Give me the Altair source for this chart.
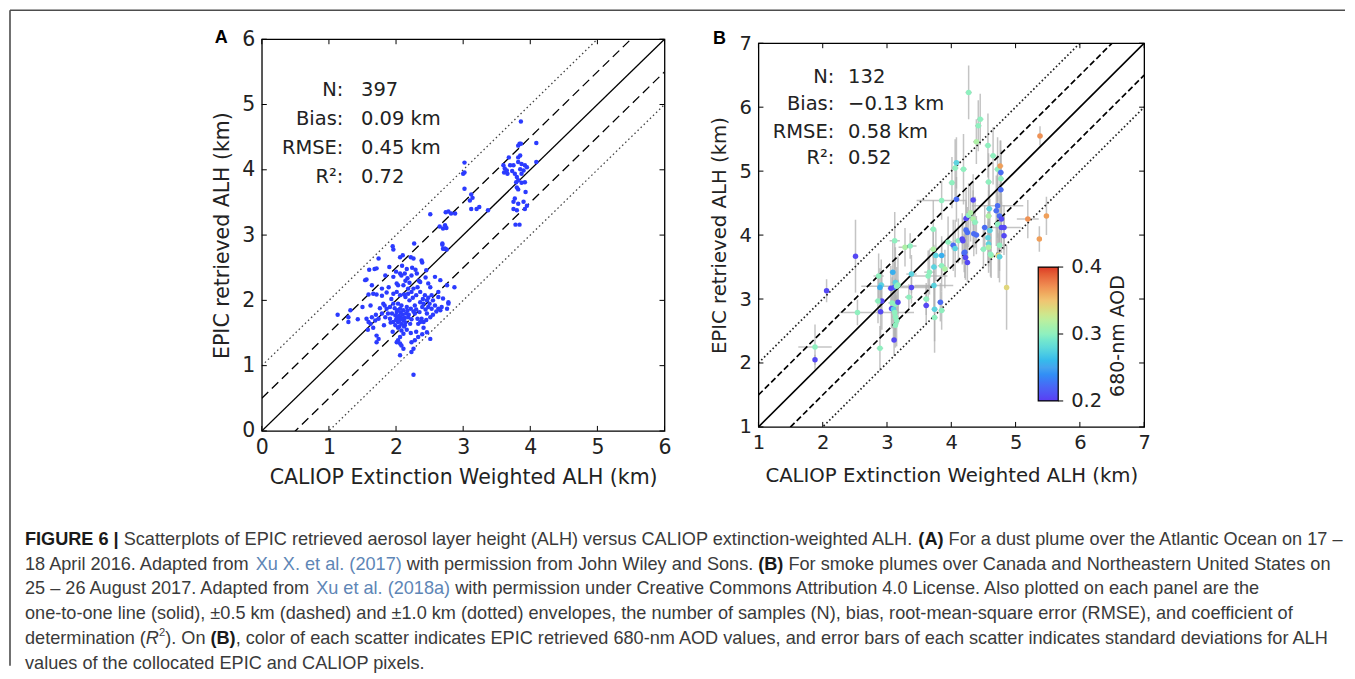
import altair as alt
import pandas as pd

# ---------------- data ----------------
# Panel A: (CALIOP ALH, EPIC ALH) in km
A_POINTS = [
    (1.95, 2.83), (1.96, 2.78), (2.27, 2.87), (2.10, 2.69), (2.06, 2.66), (2.22, 2.66), (2.26, 2.64),
    (2.38, 2.61), (2.39, 2.58), (2.69, 2.85), (2.73, 2.79), (2.755, 2.78), (1.74, 2.64), (1.68, 2.48),
    (1.71, 2.49), (1.60, 2.47), (1.54, 2.31), (1.56, 2.32), (1.84, 2.38), (1.96, 2.36), (2.06, 2.41),
    (2.08, 2.38), (2.13, 2.41), (2.17, 2.34), (2.23, 2.38), (2.31, 2.41), (2.36, 2.28), (2.48, 2.26),
    (2.51, 2.20), (2.58, 2.36), (2.66, 2.31), (2.76, 2.23), (2.87, 2.20), (1.64, 2.23), (1.79, 2.18),
    (1.89, 2.20), (2.01, 2.26), (2.03, 2.23), (2.11, 2.23), (2.18, 2.18), (2.26, 2.18), (2.32, 2.20),
    (1.96, 2.10), (2.01, 2.13), (2.06, 2.08), (2.12, 2.09), (2.18, 2.10), (2.23, 2.13), (1.59, 2.09),
    (1.66, 2.10), (1.71, 2.09), (1.79, 2.07), (2.36, 2.13), (2.43, 2.08), (2.48, 2.04), (2.53, 2.08),
    (2.63, 2.05), (2.70, 2.03), (2.78, 1.97), (1.83, 1.92), (1.86, 1.87), (1.91, 1.90), (1.96, 1.95),
    (2.03, 1.95), (2.08, 1.92), (2.06, 1.87), (2.11, 1.85), (2.01, 1.82), (2.16, 1.90), (2.22, 1.87),
    (2.28, 1.92), (2.36, 1.97), (2.41, 1.95), (2.46, 2.00), (2.48, 1.90), (2.53, 1.87), (2.58, 1.92),
    (2.63, 1.87), (2.68, 1.90), (2.66, 1.85), (2.76, 1.87), (2.78, 1.95), (1.13, 1.78), (1.29, 1.74),
    (1.29, 1.67), (1.43, 1.71), (1.32, 1.85), (1.56, 1.72), (1.59, 1.67), (1.64, 1.74), (1.69, 1.69),
    (1.74, 1.72), (1.79, 1.80), (1.84, 1.74), (1.91, 1.72), (1.94, 1.80), (1.99, 1.77), (2.01, 1.72),
    (2.06, 1.74), (2.11, 1.69), (2.03, 1.67), (2.08, 1.64), (2.13, 1.62), (1.96, 1.67), (1.99, 1.62),
    (2.03, 1.58), (2.08, 1.54), (2.11, 1.49), (2.06, 1.44), (2.18, 1.74), (2.23, 1.71), (2.21, 1.64),
    (2.28, 1.80), (2.32, 1.72), (2.33, 1.64), (2.38, 1.72), (2.41, 1.67), (2.46, 1.80), (2.51, 1.74),
    (2.41, 1.58), (1.71, 1.46), (1.74, 1.41), (1.71, 1.36), (2.03, 1.39), (2.06, 1.34), (2.08, 1.31),
    (2.01, 1.36), (2.23, 1.36), (2.28, 1.39), (2.33, 1.44), (2.06, 1.16), (2.23, 1.21), (2.26, 1.26),
    (2.51, 1.41), (2.46, 1.51), (2.26, 0.86), (2.11, 1.26),
    (2.04, 1.76), (2.07, 1.81), (2.10, 1.78), (2.13, 1.73), (2.15, 1.80), (2.00, 1.70), (2.05, 1.69),
    (2.09, 1.72), (2.14, 1.66), (2.02, 1.85), (2.17, 1.84), (1.98, 1.88), (2.12, 1.60), (2.16, 1.55),
    (2.05, 1.60), (2.19, 1.78), (2.26, 1.83), (2.30, 1.86), (2.35, 1.82), (2.44, 1.86), (2.39, 1.90),
    (2.50, 1.95), (2.45, 1.70), (2.36, 1.67), (2.55, 2.00), (1.88, 1.80), (1.92, 1.66), (1.76, 1.88),
    (1.81, 1.95), (1.70, 1.78), (1.62, 1.64), (1.66, 1.58), (1.58, 1.55), (2.20, 2.00), (2.14, 2.05),
    (2.25, 2.04), (2.30, 2.08), (2.40, 2.02), (1.93, 2.02), (1.86, 2.12), (2.16, 2.48), (2.09, 2.53),
    (2.24, 2.50), (2.00, 2.44), (1.90, 2.51), (2.34, 2.30), (2.44, 2.35), (2.20, 2.27), (2.14, 2.30),
    (2.29, 2.47), (1.62, 1.92), (1.50, 1.90), (1.82, 1.62), (2.22, 1.50), (2.30, 1.52), (2.39, 1.48),
    (1.95, 1.52), (2.45, 2.46), (2.63, 2.13), (2.55, 1.78), (2.60, 1.83),
    (3.86, 4.74), (3.84, 4.40), (3.86, 4.40), (3.82, 4.37), (4.09, 4.41), (3.02, 4.11), (3.02, 3.96),
    (3.00, 3.94), (3.68, 4.19), (3.60, 4.07), (3.62, 4.02), (3.65, 3.99), (3.61, 3.96), (3.66, 3.94),
    (3.70, 4.07), (3.75, 4.07), (3.73, 3.98), (3.82, 4.12), (3.87, 4.09), (3.92, 4.07), (3.95, 4.04),
    (3.85, 4.01), (3.90, 3.99), (3.87, 3.94), (3.82, 4.19), (3.85, 4.22), (4.09, 4.12), (3.77, 3.94),
    (3.80, 3.89), (3.79, 3.81), (3.82, 3.84), (3.87, 3.80), (3.92, 3.81), (3.80, 3.73), (3.82, 3.70),
    (3.93, 3.66), (3.77, 3.56), (3.75, 3.51), (3.82, 3.48), (3.90, 3.51), (3.95, 3.45), (3.92, 3.40),
    (3.75, 3.40), (3.80, 3.38), (3.78, 3.16), (3.84, 3.16), (3.02, 3.71), (3.12, 3.62), (3.14, 3.57),
    (3.10, 3.53), (3.12, 3.40), (3.20, 3.40), (3.24, 3.43), (3.37, 3.38), (2.78, 3.36), (2.82, 3.33),
    (2.88, 3.33), (2.74, 3.35), (2.51, 3.32), (2.73, 3.15), (2.70, 3.10), (2.65, 3.13), (2.75, 3.11),
    (2.69, 2.87), (2.70, 2.79), (2.73, 2.79),
]

# Panel B: (CALIOP ALH, EPIC ALH, 680-nm AOD, CALIOP std, EPIC std)
B_POINTS = [
    (1.88, 2.05, 0.205, 0.03, 0.08), (1.88, 2.25, 0.300, 0.26, 0.35), (2.06, 3.13, 0.205, 0.03, 0.18),
    (2.51, 3.67, 0.205, 0.03, 0.57), (2.54, 2.79, 0.300, 0.28, 0.20), (2.89, 2.23, 0.300, 0.05, 0.35),
    (2.87, 3.36, 0.300, 0.08, 0.35), (2.91, 3.22, 0.275, 0.05, 0.40), (2.89, 3.18, 0.255, 0.04, 0.30),
    (2.92, 2.97, 0.205, 0.04, 0.45), (2.90, 2.80, 0.205, 0.05, 0.40), (2.86, 2.97, 0.300, 0.05, 0.35),
    (3.09, 3.42, 0.255, 0.05, 0.50), (3.13, 3.26, 0.275, 0.06, 0.55), (3.17, 3.22, 0.300, 0.06, 0.45),
    (3.11, 3.18, 0.225, 0.05, 0.40), (3.06, 3.17, 0.205, 0.05, 0.35), (3.08, 2.94, 0.300, 0.06, 0.40),
    (3.13, 2.92, 0.300, 0.05, 0.40), (3.17, 2.95, 0.205, 0.04, 0.35), (3.07, 2.85, 0.205, 0.04, 0.30),
    (3.10, 2.84, 0.275, 0.05, 0.45), (3.12, 2.79, 0.300, 0.30, 0.40), (3.13, 2.72, 0.300, 0.05, 0.35),
    (3.15, 2.66, 0.300, 0.05, 0.40), (3.13, 2.59, 0.300, 0.04, 0.35), (3.11, 2.36, 0.205, 0.04, 0.25),
    (3.12, 3.91, 0.300, 0.08, 0.45), (3.15, 3.20, 0.300, 0.55, 0.30), (3.28, 3.81, 0.315, 0.10, 0.30),
    (3.36, 3.83, 0.300, 0.10, 0.20), (3.38, 3.39, 0.275, 0.08, 0.30), (3.38, 3.18, 0.205, 0.30, 0.25),
    (3.34, 3.03, 0.300, 0.06, 0.20), (3.61, 2.90, 0.205, 0.05, 0.30), (3.61, 3.00, 0.300, 0.05, 0.25),
    (3.64, 3.36, 0.300, 0.30, 0.40), (3.66, 3.42, 0.300, 0.08, 0.35), (3.73, 3.21, 0.275, 0.30, 0.35),
    (3.74, 2.84, 0.275, 0.05, 0.50), (3.74, 2.71, 0.300, 0.05, 0.55), (3.83, 2.95, 0.225, 0.05, 0.30),
    (3.85, 2.82, 0.300, 0.05, 0.30), (3.85, 3.52, 0.300, 0.06, 0.40), (3.76, 3.68, 0.275, 0.05, 0.40),
    (3.72, 3.78, 0.315, 0.06, 0.30), (3.72, 4.09, 0.300, 0.05, 0.45), (3.73, 3.50, 0.275, 0.05, 0.35),
    (3.85, 3.68, 0.255, 0.06, 0.30), (3.85, 4.54, 0.300, 0.39, 0.30), (3.90, 3.47, 0.315, 0.05, 0.30),
    (3.95, 3.89, 0.300, 0.06, 0.40), (4.03, 3.84, 0.225, 0.06, 0.40), (4.06, 3.79, 0.275, 0.06, 0.45),
    (4.01, 4.82, 0.300, 0.05, 0.40), (4.06, 5.05, 0.300, 0.05, 0.45), (4.08, 5.13, 0.275, 0.05, 0.40),
    (4.08, 4.56, 0.225, 0.05, 0.35), (4.11, 3.91, 0.300, 0.06, 0.35), (4.19, 5.03, 0.300, 0.05, 0.55),
    (4.17, 3.94, 0.205, 0.05, 0.40), (4.18, 3.91, 0.205, 0.05, 0.35), (4.21, 3.73, 0.225, 0.05, 0.40),
    (4.20, 3.72, 0.225, 0.05, 0.30), (4.22, 3.65, 0.205, 0.05, 0.35), (4.25, 3.57, 0.205, 0.05, 0.30),
    (4.23, 4.08, 0.225, 0.05, 0.45), (4.25, 4.04, 0.225, 0.05, 0.40), (4.23, 4.26, 0.205, 0.05, 0.45),
    (4.27, 4.31, 0.300, 0.06, 0.50), (4.30, 4.35, 0.315, 0.06, 0.45), (4.27, 6.23, 0.300, 0.05, 0.42),
    (4.34, 4.55, 0.205, 0.05, 0.40), (4.35, 4.02, 0.225, 0.05, 0.35), (4.39, 4.00, 0.225, 0.05, 0.30),
    (4.34, 4.25, 0.315, 0.05, 0.45), (4.37, 4.20, 0.300, 0.05, 0.40), (4.42, 5.71, 0.300, 0.05, 0.40),
    (4.45, 5.81, 0.300, 0.05, 0.40), (4.39, 5.46, 0.315, 0.05, 0.35), (4.52, 4.12, 0.225, 0.05, 0.35),
    (4.57, 5.40, 0.300, 0.05, 0.50), (4.58, 4.83, 0.300, 0.05, 0.45), (4.58, 4.30, 0.315, 0.05, 0.40),
    (4.59, 4.41, 0.275, 0.05, 0.45), (4.60, 4.07, 0.275, 0.05, 0.50), (4.57, 3.96, 0.275, 0.05, 0.40),
    (4.58, 3.86, 0.275, 0.05, 0.35), (4.58, 3.81, 0.315, 0.05, 0.40), (4.62, 3.68, 0.315, 0.05, 0.35),
    (4.65, 5.24, 0.300, 0.05, 0.45), (4.70, 4.38, 0.225, 0.05, 0.55), (4.72, 4.46, 0.225, 0.40, 0.50),
    (4.72, 4.17, 0.300, 0.05, 0.45), (4.72, 5.03, 0.300, 0.05, 0.50), (4.76, 5.08, 0.365, 0.05, 0.40),
    (4.77, 4.98, 0.225, 0.05, 0.50), (4.77, 4.88, 0.300, 0.05, 0.45), (4.77, 4.71, 0.225, 0.05, 0.55),
    (4.75, 4.30, 0.225, 0.05, 0.50), (4.78, 4.25, 0.205, 0.05, 0.40), (4.78, 4.12, 0.205, 0.30, 0.40),
    (4.82, 4.12, 0.205, 0.05, 0.35), (4.82, 3.99, 0.205, 0.05, 0.30), (4.75, 3.84, 0.300, 0.05, 0.40),
    (4.73, 3.68, 0.340, 0.05, 0.35), (4.75, 3.66, 0.275, 0.05, 0.40), (4.86, 3.18, 0.340, 0.04, 0.66),
    (5.19, 4.25, 0.370, 0.17, 0.30), (5.37, 3.94, 0.365, 0.04, 0.20), (5.38, 5.55, 0.370, 0.04, 0.15),
    (5.48, 4.30, 0.365, 0.04, 0.30), (4.50, 3.78, 0.300, 0.05, 0.30), (4.61, 3.70, 0.300, 0.05, 0.35),
]

TICKS_A = [0, 1, 2, 3, 4, 5, 6]
TICKS_B = [1, 2, 3, 4, 5, 6, 7]
ENV_OFFSETS = [0.0, 0.5, -0.5, 1.0, -1.0]
ENV_KIND = ["solid", "dashed", "dashed", "dotted", "dotted"]
STAT_LABELS = ["N:", "Bias:", "RMSE:", "R\u00b2:"]
STAT_VALUES_A = ["397", "0.09 km", "0.45 km", "0.72"]
STAT_VALUES_B = ["132", "\u22120.13 km", "0.58 km", "0.52"]
AOD_LABELS = [0.2, 0.3, 0.4]
TITLE_X = "CALIOP Extinction Weighted ALH (km)"
TITLE_Y = "EPIC retrieved ALH (km)"
CBAR_TITLE = "680-nm AOD"
CAPTION = [
    [("FIGURE 6 |", "b"),
     (" Scatterplots of EPIC retrieved aerosol layer height (ALH) versus CALIOP extinction-weighted ALH. ", "r"),
     ("(A)", "b"), (" For a dust plume over the Atlantic Ocean on 17 \u2013", "r")],
    [("18 April 2016. Adapted from ", "r"), ("Xu X. et al. (2017)", "l"),
     (" with permission from John Wiley and Sons. ", "r"), ("(B)", "b"),
     (" For smoke plumes over Canada and Northeastern United States on", "r")],
    [("25 \u2013 26 August 2017. Adapted from ", "r"), ("Xu et al. (2018a)", "l"),
     (" with permission under Creative Commons Attribution 4.0 License. Also plotted on each panel are the", "r")],
    [("one-to-one line (solid), \u00b10.5 km (dashed) and \u00b11.0 km (dotted) envelopes, the number of samples (N), "
      "bias, root-mean-square error (RMSE), and coefficient of", "r")],
    [("determination (", "r"), ("R", "i"), ("2", "s"), ("). On ", "r"), ("(B)", "b"),
     (", color of each scatter indicates EPIC retrieved 680-nm AOD values, and error bars of each scatter "
      "indicates standard deviations for ALH", "r")],
    [("values of the collocated EPIC and CALIOP pixels.", "r")],
]

# ---------------- styles / layout ----------------
INK = "#222222"
AX_FONT = "DejaVu Sans"
CAP_FONT = "Liberation Sans"
BLUE = "#2b3bff"
RAINBOW = ["#5b3cf2", "#4a6cf4", "#45a4ef", "#5cd3df", "#8ff0bf", "#c6ee98", "#f0c472", "#ef8450", "#dc3a26"]
AOD_STOPS = [0.2 + 0.2 * i / (len(RAINBOW) - 1) for i in range(len(RAINBOW))]

A_X0, A_Y0, A_W, A_H = 260, 37, 403, 392
B_W, B_H = 386, 384
PANEL_GAP = 94
B_X0 = A_X0 + A_W + PANEL_GAP
B_Y0 = A_Y0 + (A_H - B_H) / 2
FRAME_LEFT, FRAME_TOP, FRAME_RIGHT, FRAME_BOTTOM = 8, 8, 1344, 664

# Helvetica/Arial advance widths (1/1000 em) for laying out caption segments
HELV_R = {' ': 278, '(': 333, ')': 333, ',': 278, '-': 333, '.': 278, ':': 278, '|': 260,
          '\u2013': 556, '\u00b1': 584,
          'A': 667, 'B': 667, 'C': 722, 'D': 722, 'E': 667, 'F': 611, 'G': 778, 'H': 722, 'I': 278,
          'J': 500, 'K': 667, 'L': 556, 'M': 833, 'N': 722, 'O': 778, 'P': 667, 'Q': 778, 'R': 722,
          'S': 667, 'T': 611, 'U': 722, 'V': 667, 'W': 944, 'X': 667, 'Y': 667, 'Z': 611,
          'a': 556, 'b': 556, 'c': 500, 'd': 556, 'e': 556, 'f': 278, 'g': 556, 'h': 556, 'i': 222,
          'j': 222, 'k': 500, 'l': 222, 'm': 833, 'n': 556, 'o': 556, 'p': 556, 'q': 556, 'r': 333,
          's': 500, 't': 278, 'u': 556, 'v': 500, 'w': 722, 'x': 500, 'y': 500, 'z': 500}
for _d in "0123456789":
    HELV_R[_d] = 556
HELV_B = {' ': 278, '(': 333, ')': 333, '|': 280, '6': 556, 'A': 722, 'B': 722, 'E': 667,
          'F': 611, 'G': 778, 'I': 278, 'R': 722, 'U': 722}


def units(s, bold=False):
    t = HELV_B if bold else HELV_R
    return sum(t.get(c, HELV_R.get(c, 556)) for c in s)


CAP_LEFT, CAP_LINE0, CAP_LINE_STEP = 23, 538, 24.8
CAP_FS = 1270 * 1000 / units(CAPTION[3][0][0])
SUP_SCALE = 0.62


def sc(lo, hi):
    return alt.Scale(domain=[lo, hi], nice=False, zero=False)


def axis(ticks, lab_fs, tit_fs, title, lab_pad, tit_pad):
    return alt.Axis(values=ticks, format="d", title=title, ticks=False, tickSize=0, domain=False,
                    grid=False, labelFont=AX_FONT, labelFontSize=lab_fs, labelColor=INK,
                    labelPadding=lab_pad, labelFlush=False, labelOverlap=False, titleFont=AX_FONT,
                    titleFontSize=tit_fs, titleFontWeight="normal", titleColor=INK, titlePadding=tit_pad)


def guide_layers(lo, hi, ticks, W, H, X, Y, lw, dash, dot, dot_color, tick_len):
    env = pd.DataFrame({"off": ENV_OFFSETS, "kind": ENV_KIND})
    base = alt.Chart(env).transform_calculate(
        caliop=f"{lo}", epic=f"{lo} + datum.off", caliop2=f"{hi}", epic2=f"{hi} + datum.off")
    enc = dict(x=X("caliop"), y=Y("epic"), x2=alt.X2("caliop2"), y2=alt.Y2("epic2"))
    out = [
        base.transform_filter("datum.kind == 'solid'").mark_rule(
            clip=True, color="black", strokeWidth=lw).encode(**enc),
        base.transform_filter("datum.kind == 'dashed'").mark_rule(
            clip=True, color="black", strokeWidth=lw, strokeDash=dash).encode(**enc),
        base.transform_filter("datum.kind == 'dotted'").mark_rule(
            clip=True, color=dot_color, strokeWidth=lw, strokeDash=dot).encode(**enc),
    ]
    tx = alt.Chart(pd.DataFrame({"caliop": ticks}))
    ty = alt.Chart(pd.DataFrame({"epic": ticks}))
    out += [
        tx.mark_rule(color="black", strokeWidth=1).encode(x=X("caliop"), y=alt.value(H), y2=alt.value(H - tick_len)),
        tx.mark_rule(color="black", strokeWidth=1).encode(x=X("caliop"), y=alt.value(0), y2=alt.value(tick_len)),
        ty.mark_rule(color="black", strokeWidth=1).encode(y=Y("epic"), x=alt.value(0), x2=alt.value(tick_len)),
        ty.mark_rule(color="black", strokeWidth=1).encode(y=Y("epic"), x=alt.value(W), x2=alt.value(W - tick_len)),
    ]
    return out


def stat_layers(values, colon_x, value_x, rows_y, X, Y, fs):
    df = pd.DataFrame({"label": STAT_LABELS, "value": values, "epic": rows_y,
                       "caliop": [colon_x] * len(rows_y), "caliop_v": [value_x] * len(rows_y)})
    return [
        alt.Chart(df).mark_text(align="right", baseline="middle", font=AX_FONT, fontSize=fs, color=INK)
        .encode(x=X("caliop"), y=Y("epic"), text="label:N"),
        alt.Chart(df).mark_text(align="left", baseline="middle", font=AX_FONT, fontSize=fs, color=INK)
        .encode(x=X("caliop_v"), y=Y("epic"), text="value:N"),
    ]


def text_layer(text, px, py, **kw):
    return alt.Chart(pd.DataFrame({"t": [text]})).mark_text(**kw).encode(
        x=alt.value(px), y=alt.value(py), text="t:N")


def letter_layer(letter, px, py):
    return text_layer(letter, px, py, font=CAP_FONT, fontWeight="bold", fontSize=18, color="black",
                      align="center", baseline="middle")


# ---------------- caption + frame (drawn from panel A, in page offsets) ----------------
STYLE = {
    "r": dict(color="#3a3a3a", fontSize=CAP_FS),
    "b": dict(color="#1a1a1a", fontSize=CAP_FS, fontWeight="bold"),
    "l": dict(color="#5e86b6", fontSize=CAP_FS),
    "i": dict(color="#3a3a3a", fontSize=CAP_FS, fontStyle="italic"),
    "s": dict(color="#3a3a3a", fontSize=CAP_FS * SUP_SCALE),
}
caption_layers = []
for li, line in enumerate(CAPTION):
    x = CAP_LEFT - A_X0
    y = CAP_LINE0 + CAP_LINE_STEP * li - A_Y0
    for text, st in line:
        bold = st == "b"
        fs = STYLE[st]["fontSize"]
        stripped = text.lstrip(" ")
        x += units(text[: len(text) - len(stripped)], bold) * fs / 1000
        caption_layers.append(text_layer(stripped.rstrip(" "), x, y - (6 if st == "s" else 0),
                                         font=CAP_FONT, align="left", baseline="middle", **STYLE[st]))
        x += units(stripped, bold) * fs / 1000
frame = alt.Chart(pd.DataFrame({"k": [0]}))
caption_layers.append(frame.mark_rule(color="#4d4d4d", strokeWidth=1.6).encode(
    x=alt.value(FRAME_LEFT - A_X0), x2=alt.value(FRAME_RIGHT - A_X0), y=alt.value(FRAME_TOP - A_Y0)))
caption_layers.append(frame.mark_rule(color="#4d4d4d", strokeWidth=1.6).encode(
    x=alt.value(FRAME_LEFT - A_X0), y=alt.value(FRAME_TOP - A_Y0), y2=alt.value(FRAME_BOTTOM - A_Y0)))

# ---------------- panel A ----------------
AX_A_X = axis(TICKS_A, 20.5, 20.5, TITLE_X, 7, 9)
AX_A_Y = axis(TICKS_A, 20.5, 20.5, TITLE_Y, 7, 9)


def XA(f):
    return alt.X(f"{f}:Q", scale=sc(0, 6), axis=AX_A_X)


def YA(f):
    return alt.Y(f"{f}:Q", scale=sc(0, 6), axis=AX_A_Y)


dfA = pd.DataFrame(A_POINTS, columns=["caliop", "epic"])
layers_a = guide_layers(0, 6, TICKS_A, A_W, A_H, XA, YA, 1.3, [9, 5], [1.5, 2.8], "#444444", 5)
layers_a.append(alt.Chart(dfA).mark_circle(size=20, color=BLUE, opacity=1).encode(x=XA("caliop"), y=YA("epic")))
layers_a += stat_layers(STAT_VALUES_A, 1.216, 1.478, [5.22, 4.78, 4.33, 3.89], XA, YA, 19.5)
layers_a.append(letter_layer("A", 219.5 - A_X0, 36 - A_Y0))
layers_a += caption_layers
chart_a = alt.layer(*layers_a).properties(
    width=A_W, height=A_H, view=alt.ViewBackground(stroke="black", strokeWidth=1.3))

# ---------------- panel B ----------------
AX_B_X = axis(TICKS_B, 19.5, 19.7, TITLE_X, 7, 13)
AX_B_Y = axis(TICKS_B, 19.5, 19.7, TITLE_Y, 7, 10)


def XB(f):
    return alt.X(f"{f}:Q", scale=sc(1, 7), axis=AX_B_X)


def YB(f):
    return alt.Y(f"{f}:Q", scale=sc(1, 7), axis=AX_B_Y)


dfB = pd.DataFrame(B_POINTS, columns=["caliop", "epic", "aod", "xerr", "yerr"])
errs = alt.Chart(dfB).transform_calculate(
    xl="datum.caliop - datum.xerr", xh="datum.caliop + datum.xerr",
    yl="datum.epic - datum.yerr", yh="datum.epic + datum.yerr")
# colour bar: legend offsets are taken from the first panel's origin, ticks/labels/title from panel B's
CB_LEFT, CB_TOP, LEG_LEN, LEG_THICK = 1037, 265, 134, 20
layers_b = [
    errs.mark_rule(clip=True, color="#b0b0b0", strokeWidth=1.5, opacity=0.75).encode(
        x=XB("xl"), x2=alt.X2("xh"), y=YB("epic")),
    errs.mark_rule(clip=True, color="#b0b0b0", strokeWidth=1.5, opacity=0.75).encode(
        x=XB("caliop"), y=YB("yl"), y2=alt.Y2("yh")),
]
layers_b += guide_layers(1, 7, TICKS_B, B_W, B_H, XB, YB, 1.7, [6, 3], [1.6, 2.4], "#222222", 5)
layers_b.append(
    alt.Chart(dfB).mark_circle(size=30, opacity=1).encode(
        x=XB("caliop"), y=YB("epic"),
        color=alt.Color("aod:Q", scale=alt.Scale(domain=AOD_STOPS, range=RAINBOW, clamp=True),
                        legend=alt.Legend(orient="none", legendX=CB_LEFT - A_X0, legendY=CB_TOP - A_Y0,
                                          direction="vertical", labelExpr="''", values=AOD_LABELS,
                                          gradientLength=LEG_LEN, gradientThickness=LEG_THICK, title=None,
                                          gradientStrokeColor="black",
                                          gradientStrokeWidth=1.2, padding=0, offset=0))))
for v in AOD_LABELS:
    tyy = CB_TOP - B_Y0 + LEG_LEN * (1 - (v - AOD_LABELS[0]) / (AOD_LABELS[-1] - AOD_LABELS[0]))
    tx0 = CB_LEFT - B_X0 + LEG_THICK
    layers_b.append(alt.Chart(pd.DataFrame({"k": [v]})).mark_rule(color="black", strokeWidth=1).encode(
        x=alt.value(tx0), x2=alt.value(tx0 + 5), y=alt.value(tyy)))
    layers_b.append(text_layer(f"{v:.1f}", tx0 + 13, tyy, font=AX_FONT, fontSize=19.5, color=INK,
                               align="left", baseline="middle"))
layers_b.append(text_layer(CBAR_TITLE, 1117 - B_X0, 334 - B_Y0, font=AX_FONT, fontSize=19, color=INK,
                           angle=270, align="center", baseline="middle"))
layers_b += stat_layers(STAT_VALUES_B, 2.18, 2.395, [6.47, 6.05, 5.61, 5.21], XB, YB, 19.5)
layers_b.append(letter_layer("B", 718 - B_X0, 37 - B_Y0))
chart_b = alt.layer(*layers_b).properties(
    width=B_W, height=B_H, view=alt.ViewBackground(stroke="black", strokeWidth=1.3))

chart = alt.hconcat(chart_a, chart_b, spacing=PANEL_GAP, bounds="flush", center=True).properties(padding=0)
chart.save("out.html", embed_options={"renderer": "svg", "actions": False})
